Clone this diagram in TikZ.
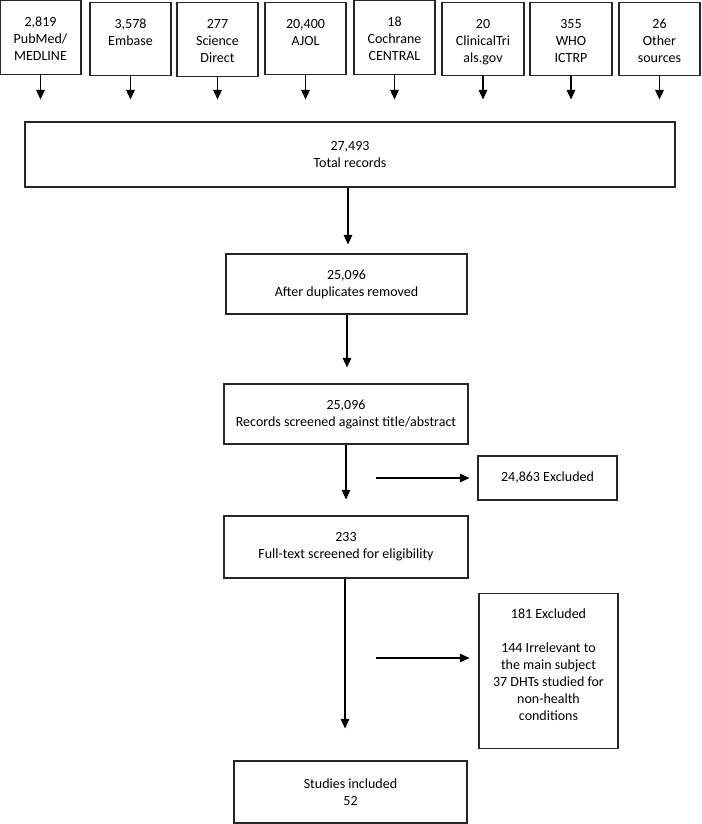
\documentclass[tikz,border=0pt]{standalone}
\usepackage{fontspec}
\setmainfont{Carlito}
\usetikzlibrary{arrows.meta}
\begin{document}
\begin{tikzpicture}[x=1pt,y=-1pt,
  box/.style={draw=black!85, line width=1.1pt, inner sep=0pt, minimum width=#1},
  txt/.style={inner sep=0pt, align=center, font=\fontsize{14}{17}\selectfont},
  ctxt/.style={inner sep=0pt, align=center, font=\fontsize{14}{17}\selectfont},
  arr/.style={line width=1.4pt, -{Triangle[width=8.5pt,length=9.5pt]}}
]
\useasboundingbox (0,0) rectangle (701,824);
% top source boxes
\foreach \n/\cx/\w/\t/\h/\lab in {
  b1/40.5/81/0/74/{2,819\\PubMed/\\MEDLINE},
  b2/130.5/81/2/75/{3,578\\Embase},
  b3/217.5/81/2/76/{277\\Science\\Direct},
  b4/305.5/81/2/74/{20,400\\AJOL},
  b5/394.5/81/0/74/{18\\Cochrane\\CENTRAL},
  b6/483/82/2/75/{20\\ClinicalTri\\als.gov},
  b7/571/82/2/75/{355\\WHO\\ICTRP},
  b8/659.5/81/2/75/{26\\Other\\sources}}{
  \node[box=\w, minimum height=\h-\t, anchor=north] (\n) at (\cx,\t) {};
  \node[txt, anchor=north, yshift=-17pt] (\n t) at (\n.north) {\lab};
}
\node[box=650, minimum height=65] (total) at (350,154.5) {};
\node[ctxt] (totalt) at (total) {27,493\\Total records};
\node[box=241, minimum height=60, ctxt] (dup) at (346.5,284) {25,096\\After duplicates removed};
\node[box=244, minimum height=60, ctxt] (scr) at (346,414) {25,096\\Records screened against title/abstract};
\node[box=139, minimum height=44, ctxt] (ex1) at (547.5,478) {24,863 Excluded};
\node[box=244, minimum height=62, ctxt] (full) at (346,547) {233\\Full-text screened for eligibility};
\node[box=139, minimum height=155, anchor=north] (ex2) at (548.5,593) {};
\node[txt, anchor=north, yshift=-15.5pt] (ex2t) at (ex2.north) {181 Excluded\\[17pt]144 Irrelevant to\\the main subject\\37 DHTs studied for\\non-health\\conditions};
\node[box=233, minimum height=62, ctxt] (inc) at (350.5,792) {Studies included\\52};
% arrows from sources
\foreach \n in {b1,b2,b3,b4,b5,b6,b7,b8}{
  \draw[arr, shorten >=22pt] (\n.south) -- (\n.south |- total.north);
}
\draw[arr, shorten >=9pt] (total.south -| 348,0) -- (dup.north -| 348,0);
\draw[arr, shorten >=16pt] (dup.south -| 347,0) -- (scr.north -| 347,0);
\draw[arr, shorten >=16pt] (scr.south) -- (full.north);
\draw[arr, shorten >=32pt] (full.south -| 345,0) -- (inc.north -| 345,0);
\coordinate (s1) at (376,478);
\coordinate (s2) at (376,658);
\draw[arr, shorten >=8pt] (s1) -- (ex1.west);
\draw[arr, shorten >=9pt] (s2) -- (s2 -| ex2.west);
\end{tikzpicture}
\end{document}
